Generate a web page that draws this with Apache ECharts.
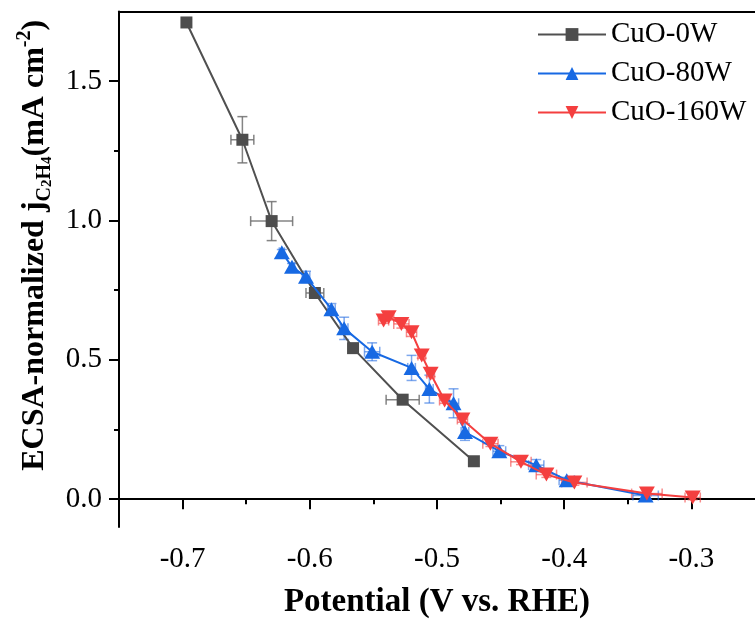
<!DOCTYPE html>
<html>
<head>
<meta charset="utf-8">
<script src="https://cdn.jsdelivr.net/npm/echarts@6/dist/echarts.min.js"></script>
<style>
html,body{margin:0;padding:0;background:#fff;}
#chart{width:755px;height:624px;}
</style>
</head>
<body>
<div id="chart"></div>
<script>
// ---- data ----
const xTickLabels = [-0.7, -0.6, -0.5, -0.4, -0.3];
const xMinorTicks = [-0.65, -0.55, -0.45, -0.35];
const yTickLabels = [0.0, 0.5, 1.0, 1.5];
const yMinorTicks = [0.25, 0.75, 1.25];

const seriesNames = ['CuO-0W', 'CuO-80W', 'CuO-160W'];

const cuo0wPotential    = [-0.697, -0.653, -0.630, -0.596, -0.566, -0.527, -0.471];
const cuo0wCurrent      = [1.711, 1.290, 0.998, 0.740, 0.542, 0.357, 0.136];
const cuo0wPotentialErr = [0, 0.009, 0.0165, 0.007, 0, 0.013, 0.003];
const cuo0wCurrentErr   = [0, 0.083, 0.070, 0.015, 0, 0.008, 0.008];

const cuo80wPotential    = [-0.622, -0.614, -0.603, -0.583, -0.573, -0.551, -0.520, -0.506, -0.487, -0.478, -0.451, -0.422, -0.398, -0.336];
const cuo80wCurrent      = [0.886, 0.834, 0.798, 0.682, 0.613, 0.529, 0.471, 0.395, 0.344, 0.241, 0.172, 0.122, 0.068, 0.013];
const cuo80wPotentialErr = [0.002, 0.002, 0.003, 0.003, 0.003, 0.006, 0.003, 0.003, 0.004, 0.003, 0.005, 0.006, 0.006, 0.010];
const cuo80wCurrentErr   = [0.010, 0.012, 0.020, 0.020, 0.040, 0.032, 0.045, 0.050, 0.052, 0.030, 0.020, 0.020, 0.010, 0.006];

const cuo160wPotential    = [-0.542, -0.538, -0.528, -0.520, -0.512, -0.505, -0.494, -0.480, -0.458, -0.434, -0.414, -0.392, -0.335, -0.299];
const cuo160wCurrent      = [0.641, 0.653, 0.629, 0.599, 0.516, 0.450, 0.354, 0.286, 0.199, 0.134, 0.088, 0.060, 0.020, 0.006];
const cuo160wPotentialErr = [0.004, 0.004, 0.006, 0.004, 0.003, 0.003, 0.004, 0.004, 0.006, 0.008, 0.008, 0.010, 0.012, 0.006];
const cuo160wCurrentErr   = [0.010, 0.010, 0.015, 0.015, 0.010, 0.010, 0.010, 0.010, 0.010, 0.010, 0.010, 0.010, 0.008, 0.008];

// ---- styles ----
const FONT = 'Liberation Serif';
const colors = ['#4d4d4d', '#1769e3', '#f43f3f'];
const errColors = ['rgba(110,110,110,0.85)', 'rgba(40,110,225,0.6)', 'rgba(244,63,63,0.6)'];

function zip(a, b) { return a.map((v, i) => [v, b[i]]); }
function zipErr(x, y, ex, ey) { return x.map((v, i) => [v, y[i], ex[i], ey[i]]); }

function errRender(color) {
  return function (params, api) {
    const x = api.value(0), y = api.value(1), ex = api.value(2), ey = api.value(3);
    const c = api.coord([x, y]);
    const cap = 5;
    const lines = [];
    if (ey > 0) {
      const t = api.coord([x, y + ey]), b = api.coord([x, y - ey]);
      lines.push([c[0], t[1], c[0], b[1]], [c[0] - cap, t[1], c[0] + cap, t[1]], [c[0] - cap, b[1], c[0] + cap, b[1]]);
    }
    if (ex > 0) {
      const l = api.coord([x - ex, y]), r = api.coord([x + ex, y]);
      lines.push([l[0], c[1], r[0], c[1]], [l[0], c[1] - cap, l[0], c[1] + cap], [r[0], c[1] - cap, r[0], c[1] + cap]);
    }
    return {
      type: 'group',
      children: lines.map(p => ({
        type: 'line',
        shape: { x1: p[0], y1: p[1], x2: p[2], y2: p[3] },
        style: { stroke: color, lineWidth: 1.5 }
      }))
    };
  };
}

const xRange = { min: -0.75, max: -0.25 };
const yRange = { min: -0.1, max: 1.75 };
const axisLineStyle = { color: '#000', width: 2 };

const chart = echarts.init(document.getElementById('chart'));
chart.setOption({
  animation: false,
  backgroundColor: '#fff',
  grid: { left: 119, right: -4, top: 11.6, bottom: 95.4, containLabel: false },
  legend: {
    data: seriesNames,
    orient: 'vertical',
    left: 532,
    top: 15,
    itemWidth: 68,
    itemHeight: 16,
    itemGap: 10,
    textStyle: { fontFamily: FONT, fontSize: 29, color: '#000' }
  },
  xAxis: [
    {
      type: 'value', position: 'bottom', ...xRange,
      axisLine: { lineStyle: axisLineStyle },
      axisTick: { customValues: xTickLabels, length: 10, lineStyle: axisLineStyle },
      axisLabel: { customValues: xTickLabels, margin: 18, fontFamily: FONT, fontSize: 29, color: '#000', formatter: v => v.toFixed(1) },
      splitLine: { show: false },
      name: 'Potential (V vs. RHE)', nameLocation: 'middle', nameGap: 59,
      nameTextStyle: { fontFamily: FONT, fontSize: 33, fontWeight: 'bold', color: '#000' }
    },
    {
      type: 'value', position: 'bottom', ...xRange,
      axisLine: { show: false },
      axisTick: { customValues: xMinorTicks, length: 5, lineStyle: axisLineStyle },
      axisLabel: { show: false }, splitLine: { show: false }
    },
    {
      type: 'value', position: 'top', ...xRange,
      axisLine: { lineStyle: axisLineStyle },
      axisTick: { show: false }, axisLabel: { show: false }, splitLine: { show: false }
    }
  ],
  yAxis: [
    {
      type: 'value', position: 'left', ...yRange,
      axisLine: { lineStyle: axisLineStyle },
      axisTick: { customValues: yTickLabels, length: 10, lineStyle: axisLineStyle },
      axisLabel: { customValues: yTickLabels, margin: 17, fontFamily: FONT, fontSize: 29, color: '#000', formatter: v => v.toFixed(1) },
      splitLine: { show: false },
      name: '{b|ECSA-normalized j}{s|C}{ss|2}{s|H}{ss|4}{b|(mA cm}{p|-2}{b|)}',
      nameLocation: 'middle', nameGap: 57,
      nameTextStyle: {
        padding: [0, 0, 0, 48],
        rich: {
          b: { fontFamily: FONT, fontSize: 32, fontWeight: 'bold', color: '#000', lineHeight: 40, verticalAlign: 'middle' },
          s: { fontFamily: FONT, fontSize: 20, fontWeight: 'bold', color: '#000', lineHeight: 20, verticalAlign: 'bottom' },
          ss: { fontFamily: FONT, fontSize: 15, fontWeight: 'bold', color: '#000', lineHeight: 17, verticalAlign: 'bottom' },
          p: { fontFamily: FONT, fontSize: 20, fontWeight: 'bold', color: '#000', lineHeight: 20, verticalAlign: 'top' }
        }
      }
    },
    {
      type: 'value', position: 'left', ...yRange,
      axisLine: { show: false },
      axisTick: { customValues: yMinorTicks, length: 5, lineStyle: axisLineStyle },
      axisLabel: { show: false }, splitLine: { show: false }
    }
  ],
  series: [
    { type: 'custom', xAxisIndex: 0, yAxisIndex: 0, renderItem: errRender(errColors[0]), data: zipErr(cuo0wPotential, cuo0wCurrent, cuo0wPotentialErr, cuo0wCurrentErr), z: 1, silent: true },
    { type: 'custom', xAxisIndex: 0, yAxisIndex: 0, renderItem: errRender(errColors[1]), data: zipErr(cuo80wPotential, cuo80wCurrent, cuo80wPotentialErr, cuo80wCurrentErr), z: 1, silent: true },
    { type: 'custom', xAxisIndex: 0, yAxisIndex: 0, renderItem: errRender(errColors[2]), data: zipErr(cuo160wPotential, cuo160wCurrent, cuo160wPotentialErr, cuo160wCurrentErr), z: 1, silent: true },
    {
      name: seriesNames[0], type: 'line', xAxisIndex: 0, yAxisIndex: 0, z: 3,
      data: zip(cuo0wPotential, cuo0wCurrent),
      symbol: 'rect', symbolSize: 12, showAllSymbol: true,
      lineStyle: { color: '#505050', width: 2 }, itemStyle: { color: colors[0] }
    },
    {
      name: seriesNames[1], type: 'line', xAxisIndex: 0, yAxisIndex: 0, z: 4,
      data: zip(cuo80wPotential, cuo80wCurrent),
      symbol: 'triangle', symbolSize: [16, 14], showAllSymbol: true,
      lineStyle: { color: colors[1], width: 2 }, itemStyle: { color: colors[1] }
    },
    {
      name: seriesNames[2], type: 'line', xAxisIndex: 0, yAxisIndex: 0, z: 5,
      data: zip(cuo160wPotential, cuo160wCurrent),
      symbol: 'triangle', symbolRotate: 180, symbolSize: [16, 14], showAllSymbol: true,
      lineStyle: { color: colors[2], width: 2 }, itemStyle: { color: colors[2] }
    }
  ]
});
</script>
</body>
</html>
